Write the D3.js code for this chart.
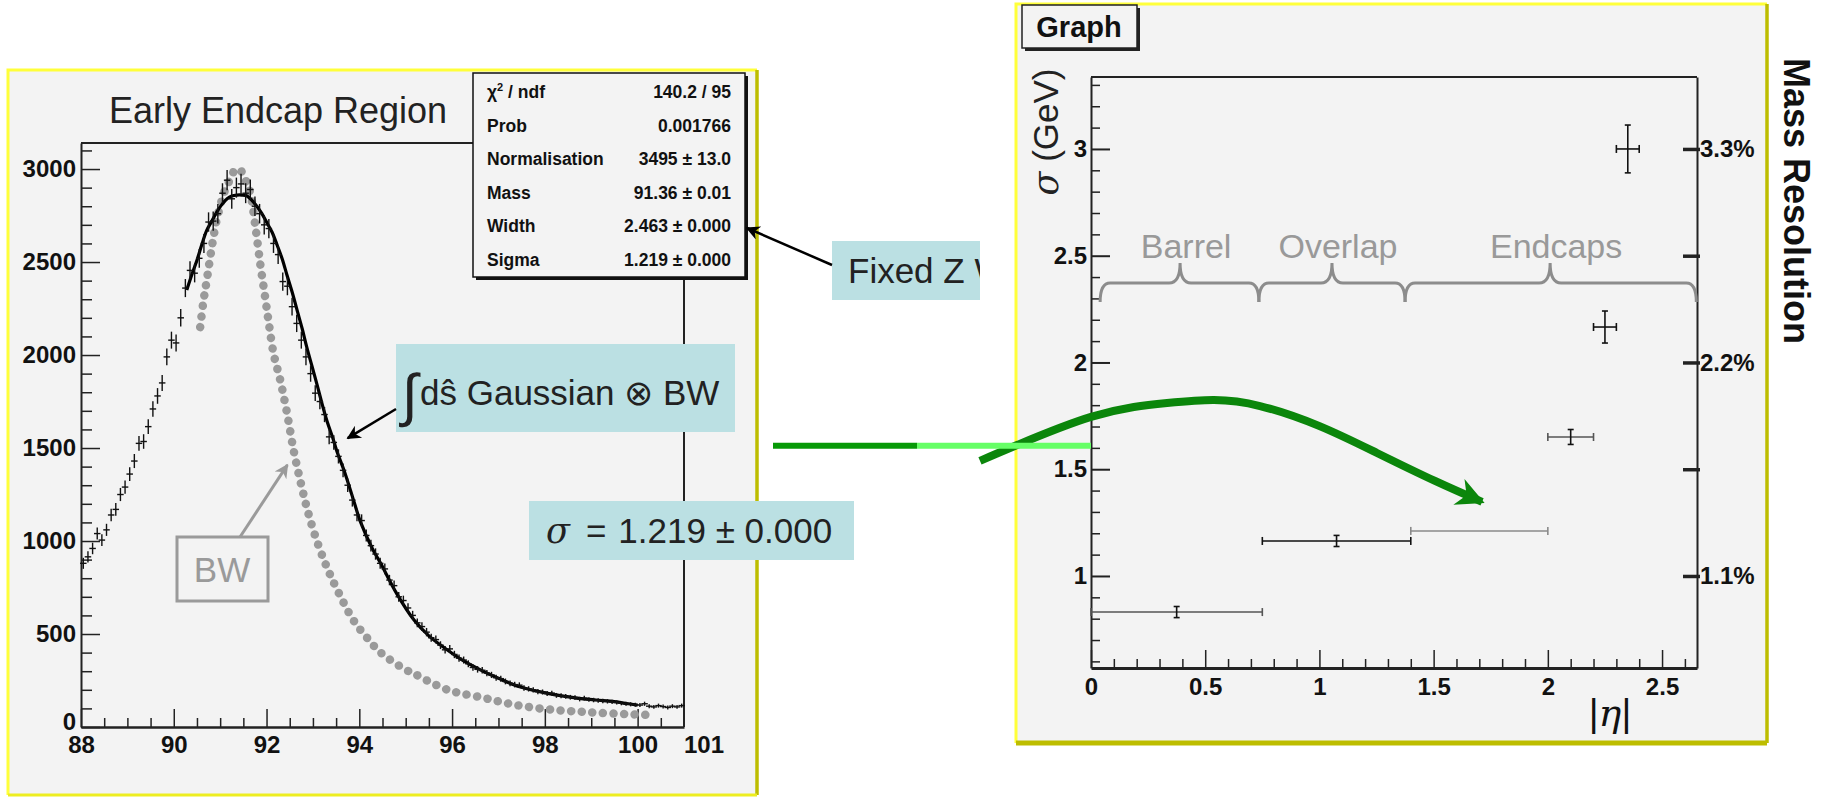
<!DOCTYPE html>
<html>
<head>
<meta charset="utf-8">
<script src="https://cdn.jsdelivr.net/npm/d3@7"></script>
<style>
  body { margin: 0; background: #fff; }
  svg { display: block; font-family: Arial, "Liberation Sans", Helvetica, sans-serif; }
  .tk text { font-weight: bold; font-size: 24px; fill: #111; }
  .tk path, .tk line { stroke: #222; }
</style>
</head>
<body>
<div class="canvas"></div>
<script>
// ---- left plot: Z peak in the early endcap region ----
var massBins = [88.05, 88.15, 88.25, 88.35, 88.45, 88.55, 88.65, 88.75, 88.85, 88.95,
  89.05, 89.15, 89.25, 89.35, 89.45, 89.55, 89.65, 89.75, 89.85, 89.95,
  90.05, 90.15, 90.25, 90.35, 90.45, 90.55, 90.65, 90.75, 90.85, 90.95,
  91.05, 91.15, 91.25, 91.35, 91.45, 91.55, 91.65, 91.75, 91.85, 91.95,
  92.05, 92.15, 92.25, 92.35, 92.45, 92.55, 92.65, 92.75, 92.85, 92.95,
  93.05, 93.15, 93.25, 93.35, 93.45, 93.55, 93.65, 93.75, 93.85, 93.95,
  94.05, 94.15, 94.25, 94.35, 94.45, 94.55, 94.65, 94.75, 94.85, 94.95,
  95.05, 95.15, 95.25, 95.35, 95.45, 95.55, 95.65, 95.75, 95.85, 95.95,
  96.05, 96.15, 96.25, 96.35, 96.45, 96.55, 96.65, 96.75, 96.85, 96.95,
  97.05, 97.15, 97.25, 97.35, 97.45, 97.55, 97.65, 97.75, 97.85, 97.95,
  98.05, 98.15, 98.25, 98.35, 98.45, 98.55, 98.65, 98.75, 98.85, 98.95,
  99.05, 99.15, 99.25, 99.35, 99.45, 99.55, 99.65, 99.75, 99.85, 99.95,
  100.05, 100.15, 100.25, 100.35, 100.45, 100.55, 100.65, 100.75, 100.85, 100.95];
var counts = [880, 915, 960, 1040, 1005, 1060, 1140, 1170, 1250, 1290,
  1360, 1430, 1525, 1535, 1615, 1710, 1780, 1850, 1990, 2080,
  2065, 2200, 2360, 2455, 2440, 2520, 2600, 2715, 2720, 2760,
  2870, 2940, 2840, 2900, 2920, 2870, 2890, 2800, 2760, 2700,
  2680, 2600, 2540, 2395, 2370, 2260, 2170, 2080, 1990, 1900,
  1795, 1750, 1680, 1560, 1530, 1455, 1380, 1300, 1220, 1140,
  1110, 1030, 975, 930, 880, 850, 790, 760, 700, 680,
  640, 600, 560, 540, 510, 480, 470, 440, 415, 420,
  390, 370, 360, 340, 320, 310, 305, 290, 280, 265,
  260, 245, 235, 228, 225, 210, 205, 200, 190, 188,
  180, 182, 170, 168, 165, 160, 158, 150, 155, 148,
  145, 143, 140, 138, 135, 132, 128, 125, 122, 120,
  118, 125, 112, 108, 115, 110, 105, 112, 108, 115];

var fitMass = [90.28, 90.4, 90.5, 90.6, 90.71, 90.82, 90.93, 91.04, 91.15, 91.25,
  91.36, 91.47, 91.58, 91.69, 91.79, 91.9, 92.01, 92.12, 92.23, 92.34,
  92.44, 92.55, 92.66, 92.77, 92.87, 92.98, 93.1, 93.2, 93.31, 93.42,
  93.52, 93.67, 93.85, 94.03, 94.28, 94.46, 94.8, 95.18, 95.5, 95.9,
  96.25, 96.62, 97.0, 97.34, 97.7, 98.06, 98.4, 98.78, 99.1, 99.5, 99.8, 100.0];
var fitValue = [2350, 2440, 2510, 2590, 2670, 2720, 2770, 2810, 2840, 2855,
  2860, 2860, 2855, 2830, 2800, 2760, 2710, 2660, 2590, 2515,
  2430, 2340, 2240, 2140, 2040, 1940, 1830, 1735, 1640, 1560,
  1480, 1380, 1240, 1100, 960, 880, 720, 575, 490, 414,
  355, 306, 262, 226, 200, 181, 166, 153, 145, 136, 125, 118];

var bwMass = [90.57, 90.64, 90.71, 90.82, 90.92, 91.0, 91.08, 91.15, 91.22, 91.29,
  91.36, 91.43, 91.5, 91.58, 91.65, 91.76, 91.87, 91.97, 92.05, 92.15,
  92.3, 92.44, 92.59, 92.75, 92.9, 93.1, 93.3, 93.5, 93.87, 94.2,
  94.46, 95.0, 95.18, 95.5, 95.9, 96.2, 96.62, 97.0, 97.34, 97.7,
  98.06, 98.4, 98.78, 99.1, 99.5, 99.85, 100.2];
var bwValue = [2150, 2290, 2400, 2580, 2720, 2800, 2870, 2910, 2950, 2985,
  3000, 2995, 2970, 2920, 2870, 2690, 2480, 2310, 2170, 2010,
  1860, 1690, 1480, 1300, 1150, 990, 860, 750, 575, 470,
  400, 308, 287, 245, 200, 180, 160, 138, 120, 106,
  95, 88, 82, 77, 72, 68, 65];

var massTicks = [88, 90, 92, 94, 96, 98, 100];
var countTicks = [0, 500, 1000, 1500, 2000, 2500, 3000];

var statLabels = ["χ² / ndf", "Prob", "Normalisation", "Mass", "Width", "Sigma"];
var statValues = ["140.2 / 95", "0.001766", "3495 ± 13.0", "91.36 ± 0.01", "2.463 ± 0.000", "1.219 ± 0.000"];

// ---- right plot: resolution vs |eta| ----
var etaCenter = [0.375, 1.075, 1.7, 2.1, 2.25, 2.35];
var etaHalfWidth = [0.375, 0.325, 0.3, 0.1, 0.05, 0.05];
var sigmaValue = [0.831, 1.164, 1.211, 1.651, 2.166, 3.0];
var sigmaError = [0.026, 0.026, 0, 0.035, 0.075, 0.112];

var etaTicks = [0, 0.5, 1, 1.5, 2, 2.5];
var sigmaTicks = [1, 1.5, 2, 2.5, 3];
var pctTicks = [1.1, 1.65, 2.2, 2.75, 3.3];
var pctLabelled = [1.1, 2.2, 3.3];

var regionNames = ["Barrel", "Overlap", "Endcaps"];
var regionStart = [0.04, 0.735, 1.375];
var regionEnd = [0.735, 1.375, 2.65];
var regionTip = [0.39, 1.055, 2.01];
var regionLevel = 2.372;

// hand-drawn green arrow, in (|eta|, sigma) of the right plot
var arrowEta = [-0.486, 0, 0.333, 0.539, 0.74, 0.998, 1.252, 1.506, 1.712];
var arrowSigma = [1.539, 1.745, 1.81, 1.824, 1.796, 1.703, 1.576, 1.445, 1.347];
var linkSigma = 1.61;

var svg = d3.select(".canvas").append("svg")
  .attr("width", 1830).attr("height", 797);

var defs = svg.append("defs");
function arrowMarker(id, color, w, h) {
  defs.append("marker").attr("id", id)
    .attr("viewBox", "0 0 10 10").attr("refX", 9).attr("refY", 5)
    .attr("markerUnits", "userSpaceOnUse")
    .attr("markerWidth", w).attr("markerHeight", h)
    .attr("orient", "auto")
    .append("path").attr("d", "M0,0 L10,5 L0,10 L3,5 Z").attr("fill", color);
}
arrowMarker("blackhead", "#000", 18, 14);
arrowMarker("grayhead", "#9a9a9a", 18, 14);
arrowMarker("greenhead", "#0b860b", 32, 28);

svg.append("rect").attr("width", 1830).attr("height", 797).attr("fill", "#fff");

function panel(x0, y0, x1, y1, bottomLight) {
  svg.append("rect").attr("x", x0).attr("y", y0)
    .attr("width", x1 - x0).attr("height", y1 - y0).attr("fill", "#f3f3f3");
  svg.append("path").attr("d", "M" + x0 + "," + y1 + "V" + y0 + "H" + x1)
    .attr("fill", "none").attr("stroke", "#ffff3a").attr("stroke-width", 3);
  svg.append("path").attr("d", "M" + x1 + "," + y0 + "V" + y1)
    .attr("fill", "none").attr("stroke", "#bdbd00").attr("stroke-width", 3.5);
  svg.append("path").attr("d", "M" + x0 + "," + y1 + "H" + x1)
    .attr("fill", "none").attr("stroke", bottomLight ? "#eded20" : "#bdbd00")
    .attr("stroke-width", bottomLight ? 3 : 5);
}

// ================= LEFT PANEL =================
panel(8, 70, 757, 795, true);

var xL = d3.scaleLinear().domain([88, 101]).range([81, 684]);
var yL = d3.scaleLinear().domain([0, 3140]).range([727, 143]);

var gL = svg.append("g");

svg.append("text").attr("x", 278).attr("y", 123)
  .attr("text-anchor", "middle").attr("font-size", 36).attr("fill", "#222")
  .text("Early Endcap Region");

// frame top and right
gL.append("line").attr("x1", xL(88)).attr("x2", 473).attr("y1", yL(3140)).attr("y2", yL(3140))
  .attr("stroke", "#222").attr("stroke-width", 2);
gL.append("line").attr("x1", xL(101)).attr("x2", xL(101)).attr("y1", 277).attr("y2", yL(0))
  .attr("stroke", "#222").attr("stroke-width", 2);

// axes (ticks point inward, like ROOT)
gL.append("g").attr("class", "tk").attr("transform", "translate(" + xL(88) + ",0)")
  .call(d3.axisLeft(yL).tickValues(d3.range(100, 3200, 100).filter(function(v){ return v % 500; }))
    .tickSizeInner(-11).tickSizeOuter(0).tickFormat(""))
  .call(function(g){ g.select(".domain").remove(); g.selectAll("line").attr("stroke-width", 1.5); });
gL.append("g").attr("class", "tk").attr("transform", "translate(" + xL(88) + ",0)")
  .call(d3.axisLeft(yL).tickValues(countTicks).tickSizeInner(-19).tickSizeOuter(0).tickPadding(5)
    .tickFormat(d3.format("d")))
  .call(function(g){
    g.select(".domain").attr("stroke-width", 2);
    g.selectAll("line").attr("stroke-width", 1.5);
    g.selectAll("text").filter(function(d){ return d === 0; }).attr("dy", "0.1em");
  });

gL.append("g").attr("class", "tk").attr("transform", "translate(0," + yL(0) + ")")
  .call(d3.axisBottom(xL).tickValues(d3.range(88.5, 101, 0.5).filter(function(v){ return v % 2; }))
    .tickSizeInner(-9).tickSizeOuter(0).tickFormat(""))
  .call(function(g){ g.select(".domain").remove(); g.selectAll("line").attr("stroke-width", 1.5); });
gL.append("g").attr("class", "tk").attr("transform", "translate(0," + yL(0) + ")")
  .call(d3.axisBottom(xL).tickValues(massTicks).tickSizeInner(-18).tickSizeOuter(0).tickPadding(9))
  .call(function(g){ g.select(".domain").attr("stroke-width", 2.5); g.selectAll("line").attr("stroke-width", 1.5); });
gL.append("text").attr("class", "tk").attr("x", xL(101)).attr("y", yL(0) + 26)
  .attr("font-weight", "bold").attr("font-size", 24).attr("fill", "#111").text("101");

// BW dotted curve
var lineL = d3.line().x(function(d){ return xL(d[0]); }).y(function(d){ return yL(d[1]); })
  .curve(d3.curveCatmullRom);
gL.append("path").datum(d3.zip(bwMass, bwValue)).attr("d", lineL)
  .attr("fill", "none").attr("stroke", "#9a9a9a").attr("stroke-width", 8.5)
  .attr("stroke-linecap", "round").attr("stroke-dasharray", "0.1 10.5");

// fit curve
gL.append("path").datum(d3.zip(fitMass, fitValue)).attr("d", lineL)
  .attr("fill", "none").attr("stroke", "#000").attr("stroke-width", 3.2);

// histogram points with errors
var pts = gL.append("g").attr("stroke", "#111").attr("stroke-width", 1.4);
massBins.forEach(function(m, i) {
  var c = counts[i], e = Math.sqrt(c);
  pts.append("line").attr("x1", xL(m)).attr("x2", xL(m)).attr("y1", yL(c - e)).attr("y2", yL(c + e));
  pts.append("line").attr("x1", xL(m - 0.07)).attr("x2", xL(m + 0.07)).attr("y1", yL(c)).attr("y2", yL(c));
});

// stats box
svg.append("rect").attr("x", 476).attr("y", 76).attr("width", 272).attr("height", 204).attr("fill", "#111");
svg.append("rect").attr("x", 473).attr("y", 73).attr("width", 272).attr("height", 204)
  .attr("fill", "#f3f3f3").attr("stroke", "#111").attr("stroke-width", 1.5);
statLabels.forEach(function(s, i) {
  var yy = 98 + i * 33.6;
  var t = svg.append("text").attr("x", 487).attr("y", yy)
    .attr("font-size", 17.5).attr("font-weight", "bold").attr("fill", "#111");
  if (i === 0) {
    t.append("tspan").text("χ");
    t.append("tspan").attr("font-size", 11).attr("dy", -7).text("2");
    t.append("tspan").attr("dy", 7).text(" / ndf");
  } else {
    t.text(s);
  }
  svg.append("text").attr("x", 731).attr("y", yy).attr("text-anchor", "end")
    .attr("font-size", 17.5).attr("font-weight", "bold").attr("fill", "#111").text(statValues[i]);
});

// annotations on left
var cyan = "#bbe0e3";
svg.append("rect").attr("x", 396).attr("y", 344).attr("width", 339).attr("height", 88).attr("fill", cyan);
svg.append("text").attr("x", 402).attr("y", 415).attr("font-size", 58)
  .attr("font-family", "DejaVu Sans, sans-serif").attr("font-weight", 200).attr("fill", "#222").text("∫");
svg.append("text").attr("x", 420).attr("y", 405).attr("font-size", 35).attr("fill", "#222")
  .text("dŝ Gaussian ⊗ BW");
svg.append("line").attr("x1", 396).attr("y1", 409).attr("x2", xL(93.75)).attr("y2", yL(1553))
  .attr("stroke", "#000").attr("stroke-width", 2.5).attr("marker-end", "url(#blackhead)");

svg.append("rect").attr("x", 529).attr("y", 501).attr("width", 325).attr("height", 59).attr("fill", cyan);
var st = svg.append("text").attr("x", 546).attr("y", 543).attr("font-size", 35).attr("fill", "#222");
st.append("tspan").attr("font-style", "italic").attr("font-family", "DejaVu Serif, serif").text("σ");
st.append("tspan").attr("dx", 16).text("=");
st.append("tspan").attr("dx", 12).text("1.219 ± 0.000");

svg.append("rect").attr("x", 177).attr("y", 537).attr("width", 91).attr("height", 64)
  .attr("fill", "none").attr("stroke", "#9a9a9a").attr("stroke-width", 3);
svg.append("text").attr("x", 222).attr("y", 582).attr("text-anchor", "middle")
  .attr("font-size", 35).attr("fill", "#9a9a9a").text("BW");
svg.append("line").attr("x1", 240).attr("y1", 537).attr("x2", xL(92.45)).attr("y2", yL(1409))
  .attr("stroke", "#9a9a9a").attr("stroke-width", 3).attr("marker-end", "url(#grayhead)");

// "Fixed Z ..." note, clipped at the box edge
defs.append("clipPath").attr("id", "fixclip").append("rect")
  .attr("x", 832).attr("y", 241).attr("width", 148).attr("height", 59);
svg.append("rect").attr("x", 832).attr("y", 241).attr("width", 148).attr("height", 59).attr("fill", cyan);
svg.append("text").attr("x", 848).attr("y", 283).attr("font-size", 35).attr("fill", "#222")
  .attr("clip-path", "url(#fixclip)").text("Fixed Z W");
svg.append("line").attr("x1", 832).attr("y1", 265).attr("x2", 747).attr("y2", 228)
  .attr("stroke", "#000").attr("stroke-width", 2.5).attr("marker-end", "url(#blackhead)");

// ================= RIGHT PANEL =================
panel(1016, 4, 1767, 743, false);

var xR = d3.scaleLinear().domain([0, 2.653]).range([1091, 1697]);
var yR = d3.scaleLinear().domain([0.569, 3.337]).range([668, 77]);
var pR = d3.scaleLinear().domain([0.569 * 1.1, 3.337 * 1.1]).range([668, 77]);

var gR = svg.append("g");

// Graph title box
svg.append("rect").attr("x", 1025).attr("y", 8).attr("width", 115).attr("height", 43).attr("fill", "#222");
svg.append("rect").attr("x", 1022).attr("y", 5).attr("width", 115).attr("height", 43)
  .attr("fill", "#f3f3f3").attr("stroke", "#222").attr("stroke-width", 1.5);
svg.append("text").attr("x", 1079).attr("y", 37).attr("text-anchor", "middle")
  .attr("font-size", 29).attr("font-weight", "bold").attr("fill", "#111").text("Graph");

gR.append("line").attr("x1", xR(0)).attr("x2", xR(2.653)).attr("y1", yR(3.337)).attr("y2", yR(3.337))
  .attr("stroke", "#222").attr("stroke-width", 2);

gR.append("g").attr("class", "tk").attr("transform", "translate(" + xR(0) + ",0)")
  .call(d3.axisLeft(yR).tickValues(d3.range(6, 34).map(function(v){ return v / 10; })
      .filter(function(v){ return Math.round(v * 10) % 5; }))
    .tickSizeInner(-9).tickSizeOuter(0).tickFormat(""))
  .call(function(g){ g.select(".domain").remove(); g.selectAll("line").attr("stroke-width", 1.5); });
gR.append("g").attr("class", "tk").attr("transform", "translate(" + xR(0) + ",0)")
  .call(d3.axisLeft(yR).tickValues(sigmaTicks).tickSizeInner(-19).tickSizeOuter(0).tickPadding(4)
    .tickFormat(d3.format("~g")))
  .call(function(g){ g.select(".domain").attr("stroke-width", 2); g.selectAll("line").attr("stroke-width", 2); });

gR.append("g").attr("class", "tk").attr("transform", "translate(0," + yR(0.569) + ")")
  .call(d3.axisBottom(xR).tickValues(d3.range(1, 27).map(function(v){ return v / 10; })
      .filter(function(v){ return Math.round(v * 10) % 5; }))
    .tickSizeInner(-9).tickSizeOuter(0).tickFormat(""))
  .call(function(g){ g.select(".domain").remove(); g.selectAll("line").attr("stroke-width", 1.5); });
gR.append("g").attr("class", "tk").attr("transform", "translate(0," + yR(0.569) + ")")
  .call(d3.axisBottom(xR).tickValues(etaTicks).tickSizeInner(-18).tickSizeOuter(0).tickPadding(10)
    .tickFormat(d3.format("~g")))
  .call(function(g){ g.select(".domain").attr("stroke", "#777").attr("stroke-width", 3); g.selectAll("line").attr("stroke-width", 1.5); });

gR.append("g").attr("class", "tk").attr("transform", "translate(" + xR(2.653) + ",0)")
  .call(d3.axisRight(pR).tickValues(pctTicks).tickSizeInner(-14).tickSizeOuter(0).tickPadding(3)
    .tickFormat(function(v){ return pctLabelled.indexOf(v) >= 0 ? v + "%" : ""; }))
  .call(function(g){
    g.select(".domain").attr("stroke-width", 2);
    g.selectAll("line").attr("stroke-width", 3.5).attr("x2", -14).attr("x1", 3);
  });

// axis titles
var yt = svg.append("text").attr("transform", "translate(1058,132) rotate(-90)")
  .attr("text-anchor", "middle").attr("font-size", 35).attr("fill", "#222");
yt.append("tspan").attr("font-style", "italic").attr("font-family", "DejaVu Serif, serif").text("σ");
yt.append("tspan").text(" (GeV)");
svg.append("text").attr("transform", "translate(1784,201) rotate(90)")
  .attr("text-anchor", "middle").attr("font-size", 36).attr("font-weight", "bold").attr("fill", "#111")
  .text("Mass Resolution");
var xt = svg.append("text").attr("x", 1610).attr("y", 726).attr("text-anchor", "middle")
  .attr("font-size", 38).attr("fill", "#111");
xt.append("tspan").text("|");
xt.append("tspan").attr("font-style", "italic").attr("font-family", "DejaVu Serif, serif").text("η");
xt.append("tspan").text("|");

// region braces
var bY = yR(regionLevel);
regionNames.forEach(function(name, i) {
  var a = xR(regionStart[i]), b = xR(regionEnd[i]), t = xR(regionTip[i]);
  var d = "M" + a + "," + (bY + 19) +
    "Q" + a + "," + bY + " " + (a + 10) + "," + bY +
    "L" + (t - 11) + "," + bY +
    "Q" + t + "," + bY + " " + t + "," + (bY - 20) +
    "Q" + t + "," + bY + " " + (t + 11) + "," + bY +
    "L" + (b - 10) + "," + bY +
    "Q" + b + "," + bY + " " + b + "," + (bY + 19);
  gR.append("path").attr("d", d).attr("fill", "none").attr("stroke", "#8c8c8c").attr("stroke-width", 3);
  gR.append("text").attr("x", t + 6).attr("y", bY - 25).attr("text-anchor", "middle")
    .attr("font-size", 34).attr("fill", "#999").text(name);
});

// resolution points
var ptColor = ["#555", "#111", "#8a8a8a", "#555", "#111", "#111"];
etaCenter.forEach(function(e, i) {
  var g = gR.append("g").attr("stroke", ptColor[i]).attr("stroke-width", 1.6);
  var x0 = xR(e - etaHalfWidth[i]), x1 = xR(e + etaHalfWidth[i]), y = yR(sigmaValue[i]);
  g.append("line").attr("x1", x0).attr("x2", x1).attr("y1", y).attr("y2", y);
  g.append("line").attr("x1", x0).attr("x2", x0).attr("y1", y - 4).attr("y2", y + 4);
  g.append("line").attr("x1", x1).attr("x2", x1).attr("y1", y - 4).attr("y2", y + 4);
  if (sigmaError[i] > 0) {
    var ya = yR(sigmaValue[i] - sigmaError[i]), yb = yR(sigmaValue[i] + sigmaError[i]);
    var xc = xR(e);
    g.append("line").attr("x1", xc).attr("x2", xc).attr("y1", ya).attr("y2", yb).attr("stroke", "#111");
    g.append("line").attr("x1", xc - 3).attr("x2", xc + 3).attr("y1", ya).attr("y2", ya).attr("stroke", "#111");
    g.append("line").attr("x1", xc - 3).attr("x2", xc + 3).attr("y1", yb).attr("y2", yb).attr("stroke", "#111");
  }
});

// green arrow and link line
svg.append("path").datum(d3.zip(arrowEta, arrowSigma))
  .attr("d", d3.line().x(function(d){ return xR(d[0]); }).y(function(d){ return yR(d[1]); })
    .curve(d3.curveNatural))
  .attr("fill", "none").attr("stroke", "#0b860b").attr("stroke-width", 8)
  .attr("marker-end", "url(#greenhead)");

var ly = yR(linkSigma);
svg.append("line").attr("x1", 773).attr("x2", 917).attr("y1", ly).attr("y2", ly)
  .attr("stroke", "#079907").attr("stroke-width", 6);
svg.append("line").attr("x1", 917).attr("x2", xR(0)).attr("y1", ly).attr("y2", ly)
  .attr("stroke", "#66ff66").attr("stroke-width", 6);
</script>
</body>
</html>
